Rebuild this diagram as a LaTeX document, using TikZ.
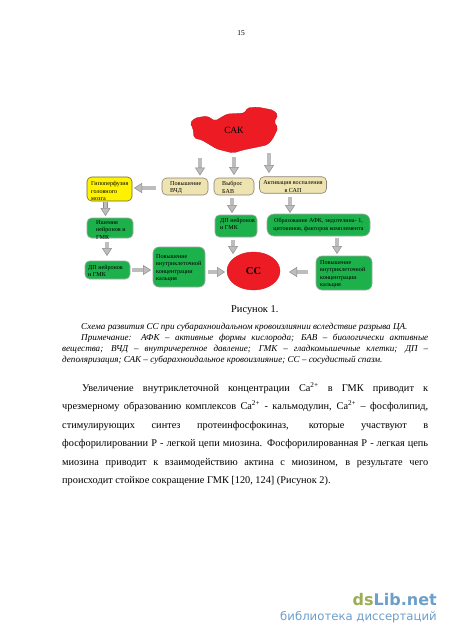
\documentclass[tikz,border=0pt]{standalone}
\usepackage{fontspec}
\setmainfont{Liberation Serif}
\newfontfamily\wmfont{DejaVu Sans}
\usetikzlibrary{arrows.meta,shapes.geometric}
\definecolor{redfill}{HTML}{ED1C24}
\definecolor{greenfill}{HTML}{1DB14B}
\definecolor{beigefill}{HTML}{EEE4B1}
\definecolor{arrowfill}{HTML}{BDBDBD}
\definecolor{arrowedge}{HTML}{8C8C8C}
\definecolor{wmgreen}{HTML}{9BAE55}
\definecolor{wmblue}{HTML}{6C9FCC}
\tikzset{
  x=1pt,y=-1pt,
  flowbox/.style={rounded corners=4.5pt,draw=#1,line width=.6pt,inner sep=0pt},
  beigebox/.style={flowbox=gray!80!brown,fill=beigefill},
  greenbox/.style={flowbox=gray!70,fill=greenfill},
  yellowbox/.style={flowbox=olive!70!black,fill=yellow},
  boxlabel/.style={anchor=north west,inner sep=0pt,align=left,font=\fontsize{6.1}{7.6}\selectfont},
  boxlabelc/.style={anchor=north,inner sep=0pt,align=center,font=\fontsize{6.1}{7.6}\selectfont},
  blockarrow/.style={draw=arrowedge,line width=.5pt,double=arrowfill,double distance=3.6pt,
    -{Triangle[length=8pt,width=10pt,fill=arrowfill]}},
  textline/.style={anchor=base west,inner sep=0pt},
  note/.style={textline,font=\fontsize{9.1}{10}\selectfont\itshape},
  body/.style={textline,font=\fontsize{10.3}{12}\selectfont},
}
\newcommand{\caii}{Ca\textsuperscript{2+}}
\begin{document}
\begin{tikzpicture}
\useasboundingbox (0,0) rectangle (450,637);
\fill[white] (0,0) rectangle (450,637);
\node[inner sep=0pt,font=\fontsize{7.5}{9}\selectfont] (pagenum) at (241,33) {15};

% SAK blob
\fill[redfill,draw=redfill!80!black,line width=.3pt,rounded corners=2pt]
 (190,123) -- (195,118) -- (207,116) -- (215,121) -- (227,114) -- (245,113) -- (247,108)
 -- (257,107) -- (273,110) -- (278,115) -- (274,122) -- (278,128) -- (272,140) -- (267,145)
 -- (243,150) -- (233,153) -- (217,149) -- (202,140) -- (194,138) -- (193,128) -- cycle;
\node[inner sep=0pt,font=\fontsize{9.5}{11}\selectfont] (sak) at (234,130.5) {САК};

% boxes
\node[yellowbox,minimum width=45,minimum height=24] (hypo) at (109.5,189) {};
\node[boxlabel] (hypot) at (91,181) {Гипоперфузия\\головного\\мозга};
\node[beigebox,minimum width=46,minimum height=17] (vchd) at (185,186.5) {};
\node[boxlabel] (vchdt) at (170,181) {Повышение\\ВЧД};
\node[beigebox,minimum width=40,minimum height=17] (bav) at (234,186.5) {};
\node[boxlabel] (bavt) at (222,181) {Выброс\\БАВ};
\node[beigebox,minimum width=67,minimum height=16.5] (sap) at (293,185) {};
\node[boxlabelc] (sapt) at (293,180.5) {Активация воспаления\\в САП};
\node[greenbox,minimum width=46,minimum height=20] (isch) at (110,228) {};
\node[boxlabel] (ischt) at (96,220) {Ишемия\\нейронов и\\ГМК};
\node[greenbox,minimum width=45,minimum height=18] (dpl) at (107.5,270) {};
\node[boxlabel] (dplt) at (88,265) {ДП нейронов\\и ГМК};
\node[greenbox,minimum width=52,minimum height=40,rounded corners=6pt] (calm) at (179,267) {};
\node[boxlabel] (calmt) at (156,254) {Повышение\\внутриклеточной\\концентрации\\кальция};
\node[greenbox,minimum width=42,minimum height=22] (dpc) at (236,226) {};
\node[boxlabel] (dpct) at (220,218) {ДП нейронов\\и ГМК};
\node[greenbox,minimum width=103,minimum height=22,rounded corners=7pt] (afk) at (318.5,225) {};
\node[boxlabelc] (afkt) at (318.5,218) {Образование АФК, эндотелина- 1,\\цитокинов, факторов комплемента};
\node[greenbox,minimum width=56,minimum height=34,rounded corners=6pt] (calr) at (344,273) {};
\node[boxlabel] (calrt) at (320,260) {Повышение\\внутриклеточной\\концентрации\\кальция};
\node[ellipse,fill=redfill,draw=redfill!90!black,minimum width=53,minimum height=38,inner sep=0pt,font=\bfseries\fontsize{10.5}{12}\selectfont] (cc) at (253.5,271) {СС};

% arrow ends
\coordinate (a1s) at (200,158); \coordinate (a1e) at (200,175.5);
\coordinate (a2s) at (234,157); \coordinate (a2e) at (234,175);
\coordinate (a3s) at (269,153); \coordinate (a3e) at (269,173);
\coordinate (a4s) at (156,188); \coordinate (a4e) at (134,188);
\coordinate (a5s) at (232,198); \coordinate (a5e) at (232,213);
\coordinate (a6s) at (290,197); \coordinate (a6e) at (290,213);
\coordinate (a7s) at (105.5,202); \coordinate (a7e) at (105.5,216);
\coordinate (a8s) at (107,242); \coordinate (a8e) at (107,256);
\coordinate (a9s) at (233,240); \coordinate (a9e) at (233,254);
\coordinate (a10s) at (337,238); \coordinate (a10e) at (337,254);
\coordinate (a11s) at (132,270); \coordinate (a11e) at (151,270);
\coordinate (a12s) at (208,272); \coordinate (a12e) at (225,272);
\coordinate (a13s) at (308,272); \coordinate (a13e) at (289,272);
\foreach \i in {1,...,13} \draw[blockarrow] (a\i s) -- (a\i e);

% caption
\node[textline,font=\fontsize{10.4}{12}\selectfont] (cap) at (231,312.5) {Рисунок 1.};
\node[note] (n1) at (81,329) {Схема развития СС при субарахноидальном кровоизлиянии вследствие разрыва ЦА.};
\node[note] (n2) at (81,340) {\makebox[347pt][s]{Примечание: АФК – активные формы кислорода; БАВ – биологически активные}};
\node[note] (n3) at (62,351) {\makebox[366pt][s]{вещества; ВЧД – внутричерепное давление; ГМК – гладкомышечные клетки; ДП –}};
\node[note] (n4) at (62,362) {деполяризация; САК – субарахноидальное кровоизлияние; СС – сосудистый спазм.};

% body
\node[body] (b1) at (82,391) {\makebox[346pt][s]{Увеличение внутриклеточной концентрации \caii{} в ГМК приводит к}};
\node[body] (b2) at (62,409.5) {\makebox[366pt][s]{чрезмерному образованию комплексов \caii{} - кальмодулин, \caii{} – фосфолипид,}};
\node[body] (b3) at (62,428) {\makebox[366pt][s]{стимулирующих синтез протеинфосфокиназ, которые участвуют в}};
\node[body] (b4) at (62,446.5) {\makebox[366pt][s]{фосфорилировании Р - легкой цепи миозина. Фосфорилированная Р - легкая цепь}};
\node[body] (b5) at (62,465) {\makebox[366pt][s]{миозина приводит к взаимодействию актина с миозином, в результате чего}};
\node[body] (b6) at (62,483.5) {происходит стойкое сокращение ГМК [120, 124] (Рисунок 2).};

% watermark
\node[anchor=base east,inner sep=0pt,font=\wmfont\bfseries\fontsize{16}{20}\selectfont] (wm1) at (437,605) {\textcolor{wmgreen}{ds}\textcolor{wmblue}{Lib.net}};
\node[anchor=base east,inner sep=0pt,text=wmblue,font=\wmfont\fontsize{11.7}{13}\selectfont] (wm2) at (437,620) {библиотека диссертаций};
\end{tikzpicture}
\end{document}
